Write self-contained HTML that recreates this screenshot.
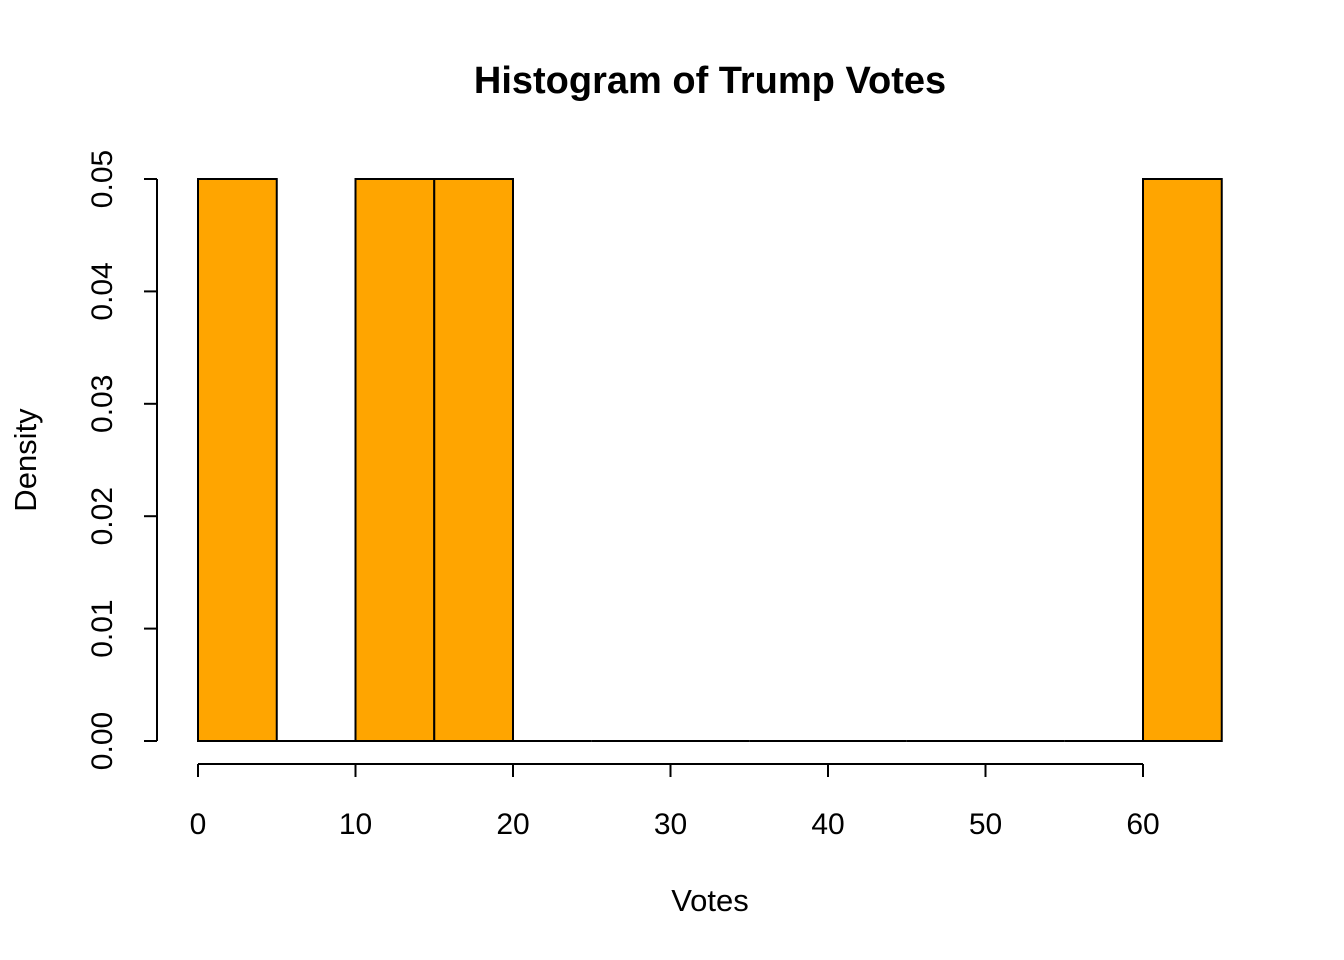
<!DOCTYPE html>
<html><head><meta charset="utf-8"><style>
html,body{margin:0;padding:0;background:#fff;}
svg{display:block;font-family:"Liberation Sans",Arial,sans-serif;}
</style></head><body>
<svg id="chart" width="1344" height="960" viewBox="0 0 1344 960">
<text x="710" y="93" text-anchor="middle" font-size="38" font-weight="bold">Histogram of Trump Votes</text>
<text x="710" y="911" text-anchor="middle" font-size="31">Votes</text>
<text transform="translate(36,460) rotate(-90)" text-anchor="middle" font-size="31">Density</text>
<g id="bars"></g><g id="xaxis"></g><g id="yaxis"></g>
</svg>
<script>
const binStarts = [0,5,10,15,20,25,30,35,40,45,50,55,60];
const densities = [0.05,0,0.05,0.05,0,0,0,0,0,0,0,0,0.05];
const binWidth = 5;
const xTicks = [0,10,20,30,40,50,60];
const yTicks = [0,0.01,0.02,0.03,0.04,0.05];
const yTickLabels = ["0.00","0.01","0.02","0.03","0.04","0.05"];

const NS="http://www.w3.org/2000/svg";
const X=v=>198+v*(1143-198)/60;
const Y=v=>741-v*(741-179)/0.05;
function mk(tag,attrs,parent){const e=document.createElementNS(NS,tag);for(const k in attrs)e.setAttribute(k,attrs[k]);parent.appendChild(e);return e;}
const bars=document.getElementById('bars');
binStarts.forEach((s,i)=>{
  const x0=X(s),x1=X(s+binWidth),y=Y(densities[i]);
  let r;
  if(densities[i]>0){
    r=mk('rect',{x:x0,y:y,width:x1-x0,height:Y(0)-y,fill:'#FFA500',stroke:'#000','stroke-width':2},bars);
  } else {
    r=mk('line',{x1:x0,x2:x1,y1:Y(0),y2:Y(0),stroke:'#000','stroke-width':2},bars);
  }
  
  
});
const xa=document.getElementById('xaxis');
const xl=mk('line',{x1:X(xTicks[0]),x2:X(xTicks[xTicks.length-1]),y1:764,y2:764,stroke:'#000','stroke-width':2},xa);


xTicks.forEach(t=>{
  mk('line',{x1:X(t),x2:X(t),y1:764,y2:777,stroke:'#000','stroke-width':2},xa);
  const tx=mk('text',{x:X(t),y:834,'text-anchor':'middle','font-size':30},xa);
  tx.textContent=t;
  
  
});
const ya=document.getElementById('yaxis');
const yl=mk('line',{x1:157,x2:157,y1:Y(yTicks[0]),y2:Y(yTicks[yTicks.length-1]),stroke:'#000','stroke-width':2},ya);


yTicks.forEach((t,i)=>{
  mk('line',{x1:144,x2:157,y1:Y(t),y2:Y(t),stroke:'#000','stroke-width':2},ya);
  const tx=mk('text',{transform:'translate(112,'+Y(t)+') rotate(-90)','text-anchor':'middle','font-size':30},ya);
  tx.textContent=yTickLabels[i];
  
  
});
</script>
</body></html>
